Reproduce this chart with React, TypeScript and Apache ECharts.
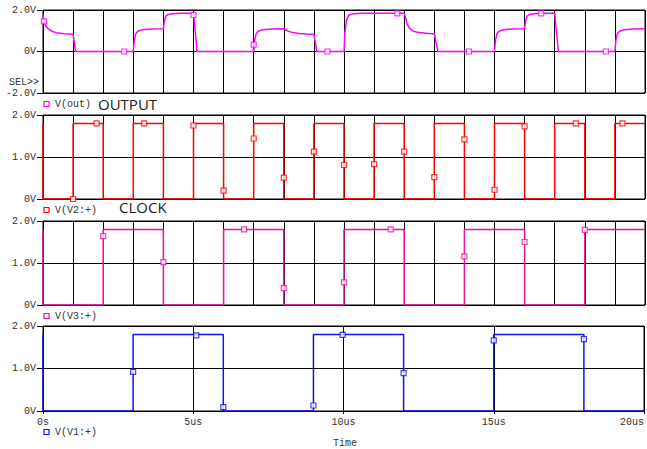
import React, { useEffect, useRef } from "react";
import * as echarts from "echarts";

// ---- data (time in us, value in V) ----
const outWave: [number, number][] = [
  [0, 1.8], [0.03, 1.45], [0.08, 1.25], [0.17, 1.1], [0.3, 0.97], [0.45, 0.9], [0.7, 0.85], [1.0, 0.83], [1.08, 0],
  [3.0, 0], [3.03, 0.5], [3.08, 0.85], [3.15, 0.98], [3.3, 1.05], [3.6, 1.09], [4.0, 1.1],
  [4.03, 1.45], [4.08, 1.7], [4.15, 1.78], [4.3, 1.82], [4.6, 1.84], [5.0, 1.84], [5.12, 0],
  [7.0, 0], [7.03, 0.5], [7.08, 0.85], [7.15, 0.98], [7.3, 1.05], [7.6, 1.09], [8.0, 1.1],
  [8.05, 1.05], [8.15, 0.98], [8.3, 0.91], [8.5, 0.87], [8.75, 0.84], [9.0, 0.83], [9.1, 0],
  [10.0, 0], [10.03, 0.9], [10.08, 1.5], [10.15, 1.75], [10.3, 1.82], [10.6, 1.84], [12.0, 1.84],
  [12.05, 1.6], [12.1, 1.3], [12.18, 1.12], [12.3, 0.98], [12.5, 0.91], [12.8, 0.87], [13.0, 0.86], [13.12, 0],
  [15.0, 0], [15.03, 0.5], [15.08, 0.85], [15.15, 0.98], [15.3, 1.05], [15.6, 1.09], [16.0, 1.1],
  [16.03, 1.45], [16.08, 1.7], [16.15, 1.78], [16.3, 1.82], [16.6, 1.84], [17.0, 1.84], [17.12, 0],
  [19.0, 0], [19.03, 0.5], [19.08, 0.85], [19.15, 0.98], [19.3, 1.05], [19.6, 1.09], [20.0, 1.1],
];
const outMarkers: [number, number][] = [
  [0.03, 1.45], [2.7, 0], [5.0, 1.76], [7.0, 0.33], [9.45, 0], [11.77, 1.84], [14.15, 0], [16.55, 1.84], [18.7, 0],
];

// clock steps: [time, new level]
const v2Steps: [number, number][] = [
  [0, 1.8], [0, 0], [1, 1.8], [2, 0], [3, 1.8], [4, 0], [5, 1.8], [6, 0], [7, 1.8], [8, 0], [9, 1.8],
  [10, 0], [11, 1.8], [12, 0], [13, 1.8], [14, 0], [15, 1.8], [16, 0], [17, 1.8], [18, 0], [19, 1.8], [20, 1.8],
];
const v2Markers: [number, number][] = [
  [1.0, 0], [1.78, 1.8], [3.36, 1.8], [5.0, 1.75], [6.0, 0.2], [7.0, 1.44], [8.0, 0.51], [9.0, 1.13],
  [10.0, 0.81], [11.0, 0.83], [12.0, 1.13], [13.0, 0.52], [14.0, 1.42], [15.0, 0.22], [16.0, 1.73],
  [17.7, 1.8], [19.25, 1.8],
];
const v3Steps: [number, number][] = [
  [0, 1.8], [0, 0], [2, 1.8], [4, 0], [6, 1.8], [8, 0], [10, 1.8], [12, 0], [14, 1.8], [16, 0], [18, 1.8], [20, 1.8],
];
const v3Markers: [number, number][] = [
  [2.0, 1.64], [4.0, 1.02], [6.68, 1.8], [8.0, 0.4], [10.0, 0.54], [11.55, 1.8], [14.0, 1.16], [16.0, 1.5], [18.0, 1.79],
];
const v1Steps: [number, number][] = [
  [0, 1.8], [0, 0], [3, 1.8], [6, 0], [9, 1.8], [12, 0], [15, 1.8], [18, 0], [20, 0],
];
const v1Markers: [number, number][] = [
  [3.0, 0.92], [5.1, 1.78], [6.0, 0.09], [9.0, 0.13], [9.97, 1.79], [12.0, 0.89], [15.0, 1.66], [18.0, 1.69],
];

const timeTicks = [0, 5, 10, 15, 20];
const timeLabels = ["0s", "5us", "10us", "15us", "20us"];
const topTicks = [-2, 0, 2];
const topLabels = ["-2.0V", "0V", "2.0V"];
const lowTicks = [0, 1, 2];
const lowLabels = ["0V", "1.0V", "2.0V"];

const traceNames = ["V(out)", "V(V2:+)", "V(V3:+)", "V(V1:+)"];
const colors = ["#ff00ff", "#ff0000", "#f0109c", "#1010ff"];

function stepsToPoints(steps: [number, number][]): [number, number][] {
  const pts: [number, number][] = [];
  let prev = steps[0][1];
  steps.forEach(([t, v], i) => {
    if (i > 0) pts.push([t, prev]);
    pts.push([t, v]);
    prev = v;
  });
  return pts;
}

const MONO = '"Liberation Mono", "DejaVu Sans Mono", monospace';

export default function App() {
  const ref = useRef<HTMLDivElement>(null);
  useEffect(() => {
    if (!ref.current) return;
    const chart = echarts.init(ref.current, null, { renderer: "svg" });
    const grids = [
      { top: 10, height: 83 },
      { top: 115, height: 84 },
      { top: 221, height: 84 },
      { top: 326, height: 85 },
    ].map((g) => ({
      left: 43, width: 602, top: g.top, height: g.height,
      show: true, borderColor: "#000", borderWidth: 1, containLabel: false,
    }));

    const labelFmt = (vals: number[], labs: string[]) => (v: number) => {
      const i = vals.findIndex((x) => Math.abs(x - v) < 1e-6);
      return i >= 0 ? labs[i] : "";
    };

    const xAxes = grids.map((_, i) => ({
      type: "value", gridIndex: i, min: 0, max: 20, interval: 1,
      axisLine: { show: false },
      splitLine: { show: true, lineStyle: { color: "#000", width: 1 } },
      axisTick: i === 3
        ? { show: true, inside: false, length: 3, customValues: timeTicks, lineStyle: { color: "#000" } }
        : { show: false },
      axisLabel: i === 3
        ? {
            show: true, customValues: timeTicks, formatter: labelFmt(timeTicks, timeLabels),
            fontFamily: MONO, fontSize: 10, color: "#333", margin: 6, alignMaxLabel: "right",
          }
        : { show: false },
    }));

    const yAxes = grids.map((_, i) => {
      const top = i === 0;
      const ticks = top ? topTicks : lowTicks;
      const labs = top ? topLabels : lowLabels;
      return {
        type: "value", gridIndex: i,
        min: top ? -2 : 0, max: 2, interval: top ? 0.4 : 0.25,
        axisLine: { show: false },
        splitLine: { show: true, lineStyle: { color: "#000", width: 1 } },
        axisTick: { show: true, inside: false, length: 6, customValues: ticks, lineStyle: { color: "#000" } },
        axisLabel: {
          show: true, customValues: ticks, formatter: labelFmt(ticks, labs),
          fontFamily: MONO, fontSize: 10, color: "#333", margin: 7,
        },
      };
    });

    const waves = [outWave, stepsToPoints(v2Steps), stepsToPoints(v3Steps), stepsToPoints(v1Steps)];
    const markers = [outMarkers, v2Markers, v3Markers, v1Markers];
    const series: any[] = [];
    waves.forEach((w, i) => {
      series.push({
        type: "line", name: traceNames[i], xAxisIndex: i, yAxisIndex: i, data: w,
        showSymbol: false, symbol: "none", lineStyle: { color: colors[i], width: 1.5 }, z: 3,
      });
      series.push({
        type: "scatter", xAxisIndex: i, yAxisIndex: i, data: markers[i],
        symbol: "rect", symbolSize: 5,
        itemStyle: { color: "#fff", borderColor: colors[i], borderWidth: 1.2 }, z: 4,
      });
    });

    const legendY = [104, 210, 316, 432];
    const graphic: any[] = [];
    legendY.forEach((y, i) => {
      graphic.push({
        type: "rect", shape: { x: 44, y: y - 2.5, width: 5, height: 5 },
        style: { fill: "#fff", stroke: colors[i], lineWidth: 1.2 },
      });
      graphic.push({
        type: "text", x: 55, y,
        style: { text: traceNames[i], font: `10px ${MONO}`, fill: "#333", verticalAlign: "middle" },
      });
    });
    graphic.push({
      type: "text", x: 98, y: 104,
      style: { text: "OUTPUT", font: '15px "Open Sans"', fill: "#222", verticalAlign: "middle" },
    });
    graphic.push({
      type: "text", x: 119, y: 207,
      style: { text: "CLOCK", font: '15px "Open Sans"', fill: "#222", verticalAlign: "middle" },
    });
    graphic.push({
      type: "text", x: 39, y: 82,
      style: { text: "SEL>>", font: `10px ${MONO}`, fill: "#333", verticalAlign: "middle", align: "right" },
    });
    graphic.push({
      type: "text", x: 333, y: 443,
      style: { text: "Time", font: `10px ${MONO}`, fill: "#333", verticalAlign: "middle" },
    });

    chart.setOption({
      animation: false,
      backgroundColor: "#fff",
      grid: grids,
      xAxis: xAxes,
      yAxis: yAxes,
      series,
      graphic,
    });
    return () => chart.dispose();
  }, []);
  return <div ref={ref} style={{ position: "fixed", left: 0, top: 0, width: 647, height: 449 }} />;
}
